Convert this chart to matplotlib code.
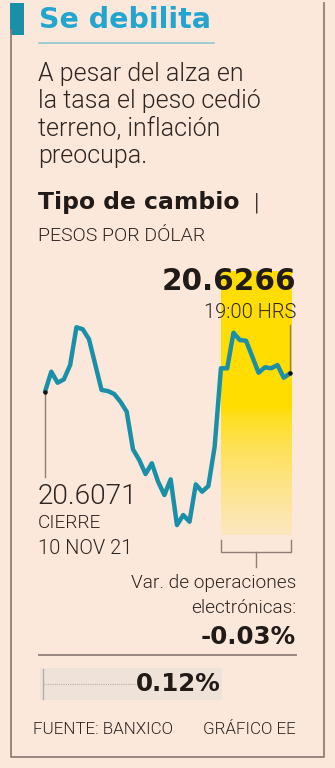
import numpy as np
import matplotlib.pyplot as plt
import matplotlib.font_manager as fm

# Tipo de cambio (pesos por dolar), pasos de tiempo
paso = [0, 1, 2, 3, 4, 5, 6, 7, 9, 10, 11, 12, 13, 14, 15, 16, 17, 18, 19,
        20, 21, 22, 23, 24, 25, 26, 27, 28, 29, 30, 31, 32, 34, 35, 36, 37, 38, 39]
tipo_cambio = [20.6071, 20.6283, 20.6166, 20.6202, 20.6354, 20.6754, 20.6733,
               20.6627, 20.6089, 20.6078, 20.6047, 20.5965, 20.5859, 20.5460,
               20.5347, 20.5198, 20.5312, 20.5117, 20.4976, 20.5142, 20.4657,
               20.4764, 20.4693, 20.5089, 20.5011, 20.5071, 20.5488, 20.6319,
               20.6319, 20.6696, 20.6619, 20.6611, 20.6272, 20.6330, 20.6319,
               20.6354, 20.6219, 20.6266]
inicio_electronicas = 28      # inicio de operaciones electronicas
fin_electronicas = 39.2
cierre = "20.6071"
ultimo = "20.6266"
var_electronicas = "-0.03%"
var_dia = "0.12%"

BG = '#fce8da'
TEAL = '#1a90a8'
TITLE = '#22a6d0'
DARK = '#221a17'
TXT = '#2e2420'
FRAME = '#8f7f77'

HEAVY = fm.FontProperties(family='DejaVu Sans', weight='bold')
LIGHT = fm.FontProperties(family='Roboto', weight=300)

W, H = 335, 768
fig = plt.figure(figsize=(W / 100, H / 100), dpi=100, facecolor=BG)


def P(x, y):
    return x / W, 1 - y / H


def txt(x, y, s, size, fp=LIGHT, color=TXT, ha='left', va='center'):
    t = fig.text(*P(x, y), s, color=color, ha=ha, va=va, fontproperties=fp)
    t.set_fontsize(size * 0.72)


def line(xs, ys, color=FRAME, lw=1.0, **kw):
    fig.add_artist(plt.Line2D([x / W for x in xs], [1 - y / H for y in ys],
                              color=color, lw=lw, **kw))


# marco
line([11, 11, 324, 324], [30, 757, 757, 3], lw=1.3)
fig.add_artist(plt.Rectangle(P(10, 35), 14 / W, 32 / H, color=TEAL, lw=0))

# titulo
txt(39, 20, "Se debilita", 28.5, fp=HEAVY, color=TITLE)
line([39, 214], [43, 43], color='#8fc9d6', lw=1.2)
for i, s in enumerate(["A pesar del alza en", "la tasa el peso cedió",
                       "terreno, inflación", "preocupa."]):
    txt(38, 74 + 27.3 * i, s, 25)
txt(38, 203, "Tipo de cambio", 23.5, fp=HEAVY, color=DARK)
txt(254, 203, "|", 24, color=DARK)
txt(38, 236, "PESOS POR DÓLAR", 19.5)

# grafica
ax = fig.add_axes([40 / W, 1 - 560 / H, 256 / W, 295 / H])
ax.set_facecolor('none')
ax.axis('off')
ax.set_xlim(-0.8, 39.95)
ax.set_ylim(20.4287, 20.7414)

y0, y1 = 20.4552, 20.7340
grad = np.ones((200, 1, 4))
t = np.linspace(0, 1, 200)  # 0 arriba, 1 abajo
fade = np.clip((t - 0.52) / 0.48, 0, 1)
grad[:, 0, :3] = [1.0, 0.867, 0.0]
grad[:, 0, 3] = 1 - 0.88 * fade ** 0.7
ax.imshow(grad, extent=[inicio_electronicas, fin_electronicas, y0, y1],
          aspect='auto', zorder=1, interpolation='bilinear', clip_on=False)

ax.plot([paso[0], paso[0]], [tipo_cambio[0], 20.5167], color=FRAME, lw=1.0, zorder=2)
ax.plot([paso[-1], paso[-1]], [tipo_cambio[-1], 20.6778], color=FRAME, lw=1.0, zorder=2)
ax.plot(paso, tipo_cambio, color=TEAL, lw=3.2, solid_joinstyle='round',
        solid_capstyle='round', zorder=3)
ax.plot([paso[0], paso[-1]], [tipo_cambio[0], tipo_cambio[-1]], 'o', color='#111111',
        ms=2.2, zorder=4)

# corchete de operaciones electronicas
mid = (inicio_electronicas + fin_electronicas) / 2
ax.plot([inicio_electronicas, inicio_electronicas, fin_electronicas, fin_electronicas],
        [20.4499, 20.4372, 20.4372, 20.4499], color=FRAME, lw=1.0, clip_on=False)
ax.plot([mid, mid], [20.4372, 20.4213], color=FRAME, lw=1.0, clip_on=False)

txt(296, 282, ultimo, 29.5, fp=HEAVY, color=DARK, ha='right')
txt(296, 312, "19:00 HRS", 20, ha='right')
txt(38, 496, cierre, 28)
txt(38, 523, "CIERRE", 19)
txt(38, 549, "10 NOV 21", 20)

txt(296, 583, "Var. de operaciones", 19, ha='right')
txt(296, 608, "electrónicas:", 19, ha='right')
txt(296, 637, var_electronicas, 24.5, fp=HEAVY, color=DARK, ha='right')
line([39, 296], [654.5, 654.5], lw=1.3)

fig.add_artist(plt.Rectangle(P(40, 700), 182 / W, 32 / H, color='#efe2d8', lw=0))
line([43, 43], [669, 699], color='#b9aca5', lw=1.0)
line([43, 135], [684, 684], color='#b9aca5', lw=0.8, ls=(0, (1, 1)))
txt(221, 684, var_dia, 24.5, fp=HEAVY, color=DARK, ha='right')

txt(33, 729, "FUENTE: BANXICO", 17)
txt(296, 729, "GRÁFICO EE", 17, ha='right')

fig.savefig('out.png', dpi=100, facecolor=BG)
